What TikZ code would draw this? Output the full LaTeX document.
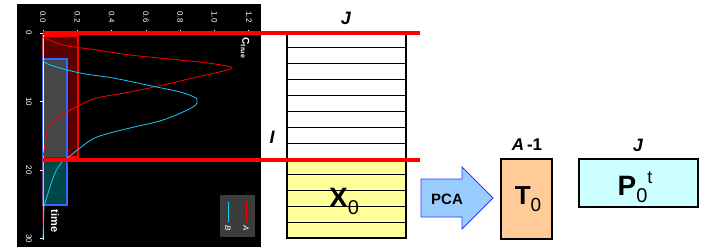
\documentclass[tikz,border=0pt]{standalone}
\usepackage{fontspec}
\setmainfont{Liberation Sans}
\definecolor{cyanc}{HTML}{19C8FF}
\definecolor{redboxc}{HTML}{5A0000}
\definecolor{grayfill}{HTML}{464646}
\definecolor{tealfill}{HTML}{004848}
\definecolor{blueedge}{HTML}{3366FF}
\definecolor{legbg}{HTML}{3C3C3C}
\definecolor{matyellow}{HTML}{FFFF99}
\definecolor{pcafill}{HTML}{99CCFF}
\definecolor{pcaedge}{HTML}{3333FF}
\definecolor{tfill}{HTML}{FFCC99}
\definecolor{pfill}{HTML}{CCFFFF}
\begin{document}
\begin{tikzpicture}[x=1pt,y=-1pt,
  dimlab/.style={font=\bfseries\itshape\fontsize{18}{18}\selectfont, inner sep=0},
  ticklab/.style={text=white, font=\fontsize{8}{8}\selectfont, rotate=-90, inner sep=0},
  plotlab/.style={text=white, font=\bfseries\fontsize{11}{11}\selectfont, rotate=-90, inner sep=0},
  leglab/.style={text=white, font=\itshape\fontsize{8}{8}\selectfont, rotate=-90, inner sep=0},
  matbox/.style={draw=black, line width=1.6pt, inner sep=0},
  sepline/.style={red, line width=4pt},
  bigtxt/.style={inner sep=0}
]
\useasboundingbox (0,0) rectangle (716,250);
\fill[white] (0,0) rectangle (716,250);

% ---------- plot panel ----------
\fill[black] (17,4) rectangle (261,247);
\filldraw[fill=redboxc, draw=red, line width=1.5pt] (43,36) rectangle (78,157);
\fill[grayfill] (43,59) rectangle (67,157);
\fill[tealfill] (43,157) rectangle (67,205);
\draw[blueedge, line width=1.5pt] (43,59) rectangle (67,205);

% axis
\draw[white, line width=0.8pt] (43,33) -- (43,240);
\foreach \v/\t in {0/0.0,1/0.2,2/0.4,3/0.6,4/0.8,5/1.0,6/1.2}{
  \draw[white, line width=0.8pt] (43+34.3*\v,29.5) -- (43+34.3*\v,33);
  \node[ticklab] (vt\v) at (43+34.3*\v,17) {\t};
}
\foreach \v/\t in {0/0,1/10,2/20,3/30}{
  \draw[white, line width=0.8pt] (39.5,33+68.5*\v) -- (43,33+68.5*\v);
  \node[ticklab] (tt\v) at (29,33+68.5*\v) {\t};
}

% curves
\draw[red, line width=0.8pt] plot[smooth, tension=0.6] coordinates {
 (43,37) (63,45) (97,50) (130,55) (180,60) (215,64) (232,68) (215,73) (197,77)
 (163,85) (130,92) (97,98) (80,105) (67,112) (57,118) (48,128) (45,145) (43,157)}
 -- (43,224);
\draw[cyanc, line width=0.8pt] (43,38) -- (43,60) plot[smooth, tension=0.6] coordinates {
 (43,60) (50,65) (80,73) (113,78) (147,85) (180,92) (194,97) (197,100) (193,107)
 (163,120) (130,128) (97,137) (80,148) (70,156) (62,162) (55,173) (50,187) (46,200) (44,206)}
 -- (43,239);

% labels in plot
\node[plotlab, font=\bfseries\fontsize{10}{10}\selectfont] (ctrue) at (245,48) {C\textsubscript{true}};
\node[plotlab] (timelab) at (55,221) {time};

% legend
\fill[legbg] (220,195) rectangle (255,237);
\draw[cyanc, line width=0.8pt] (228,202) -- (228,222);
\draw[red, line width=0.8pt] (246,202) -- (246,222);
\node[leglab] (legB) at (228,228) {B};
\node[leglab] (legA) at (246,228) {A};

% ---------- matrix X0 ----------
\fill[white] (287,32) rectangle (406,159);
\fill[matyellow] (287,159) rectangle (406,238);
\foreach \k in {1,...,12}{
  \draw[black, line width=0.8pt] (287,32+15.85*\k) -- (406,32+15.85*\k);
}
\node[matbox, minimum width=119pt, minimum height=206pt] (X0) at (346.5,135) {};
\node[bigtxt] (X0lab) at (344,201) {\fontsize{28}{28}\selectfont\textbf{X}\raisebox{-0.25em}{\fontsize{20}{20}\selectfont 0}};

% separating red lines
\coordinate (s1a) at (43,33);
\coordinate (s1b) at (420,33);
\coordinate (s2a) at (43,159.5);
\coordinate (s2b) at (420,159.5);
\draw[sepline] (s1a) -- (s1b);
\draw[sepline] (s2a) -- (s2b);

\node[dimlab] (Jx) at (346,18) {J};
\node[dimlab] (Ix) at (272,137) {I};

% ---------- PCA arrow ----------
\filldraw[fill=pcafill, draw=pcaedge, line width=0.8pt]
  (421,179) -- (462,179) -- (462,167) -- (493,198) -- (462,229) -- (462,217) -- (421,217) -- cycle;
\node[bigtxt, font=\bfseries\fontsize{15}{15}\selectfont] (pca) at (447,199) {PCA};

% ---------- T0 ----------
\node[matbox, fill=tfill, minimum width=51pt, minimum height=80pt] (T0) at (526.5,199) {};
\node[bigtxt] (T0lab) at (528,199) {\fontsize{26}{26}\selectfont\textbf{T}\raisebox{-0.25em}{\fontsize{19}{19}\selectfont 0}};
\node[bigtxt, font=\bfseries\fontsize{17}{17}\selectfont] (Alab) at (527,145) {\textit{A}\,-1};

% ---------- P0t ----------
\node[matbox, fill=pfill, minimum width=119pt, minimum height=48pt] (P0) at (638.5,183) {};
\node[bigtxt] (P0lab) at (635,187) {\fontsize{28}{28}\selectfont\textbf{P}\raisebox{-0.25em}{\fontsize{20}{20}\selectfont 0}\raisebox{0.42em}{\fontsize{18}{18}\selectfont t}};
\node[dimlab] (Jp) at (638,145) {J};
\end{tikzpicture}
\end{document}
